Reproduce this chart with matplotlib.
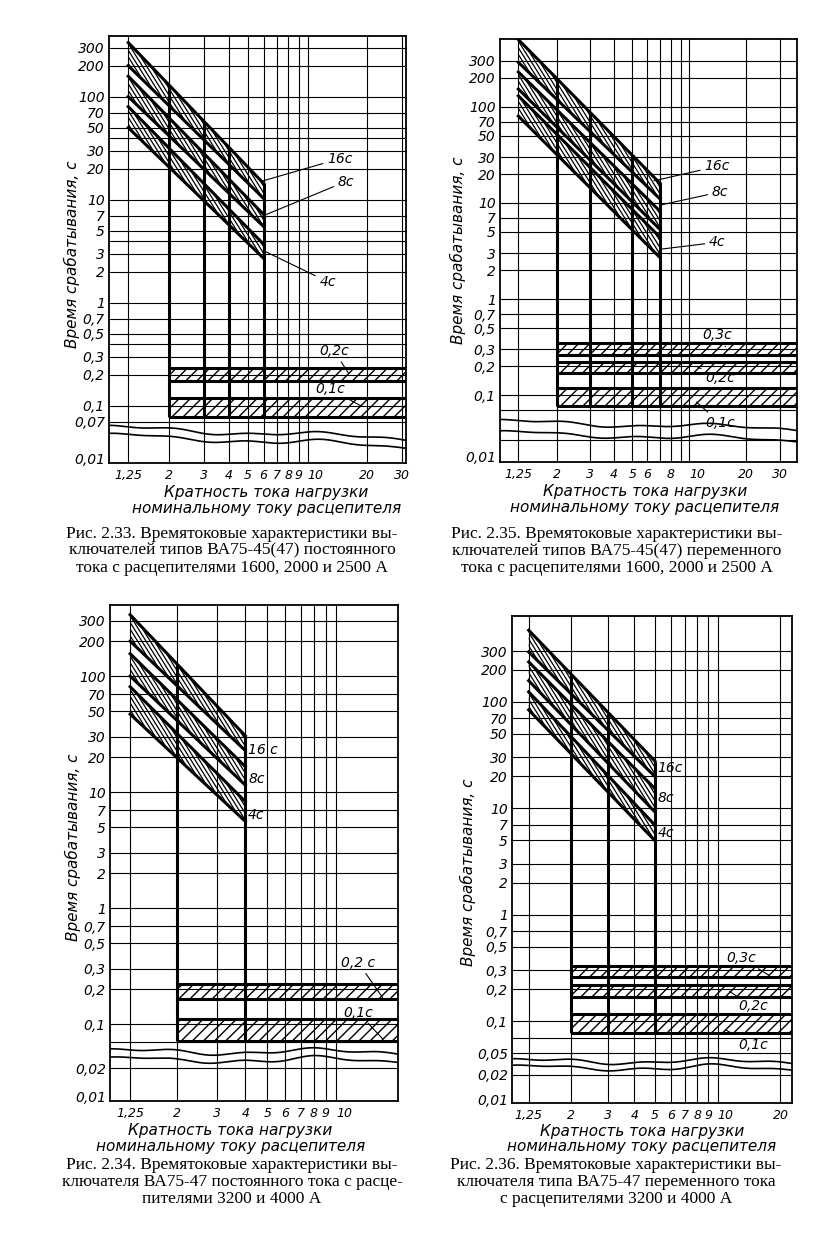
import numpy as np
import matplotlib
matplotlib.use('Agg')
import matplotlib.pyplot as plt
from matplotlib.ticker import NullLocator
from matplotlib.collections import LineCollection
from matplotlib.path import Path

plt.rcParams['font.family'] = ['DejaVu Sans']
plt.rcParams['hatch.linewidth'] = 1.0

# ---------------- data ----------------
# Рис. 2.33
p33_xticks = [1.25, 2, 3, 4, 5, 6, 7, 8, 9, 10, 20, 30]
p33_xgrid = [1.25, 2, 3, 4, 5, 6, 7, 8, 9, 10, 20, 30]
p33_yticks = [300, 200, 100, 70, 50, 30, 20, 10, 7, 5, 3, 2, 1, 0.7, 0.5, 0.3, 0.2, 0.1, 0.07, 0.01]
p33_ygrid = [300, 200, 100, 70, 50, 40, 30, 20, 10, 7, 5, 4, 3, 2, 1, 0.7, 0.5, 0.4, 0.3, 0.2, 0.1, 0.07]
p33_band_x = [1.25, 6]
p33_hi = [[335, 14.4], [158, 7.2], [80, 3.7]]      # 16 c, 8 c, 4 c upper edge
p33_lo = [[200, 10.3], [100, 5.5], [50, 2.7]]      # lower edge
p33_inst = [[0.175, 0.23], [0.078, 0.12]]          # 0,2 c, 0,1 c
p33_teeth = [2, 3, 4, 6]

# Рис. 2.35
p35_xticks = [1.25, 2, 3, 4, 5, 6, 8, 10, 20, 30]
p35_xgrid = [1.25, 2, 3, 4, 5, 6, 7, 8, 9, 10, 20, 30]
p35_yticks = [300, 200, 100, 70, 50, 30, 20, 10, 7, 5, 3, 2, 1, 0.7, 0.5, 0.3, 0.2, 0.1, 0.01]
p35_ygrid = [300, 200, 100, 70, 50, 30, 20, 10, 7, 5, 3, 2, 1, 0.7, 0.5, 0.3, 0.2, 0.1, 0.07, 0.02]
p35_band_x = [1.25, 7]
p35_hi = [[500, 16], [230, 8.2], [130, 4.4]]
p35_lo = [[290, 11], [153, 5.3], [80, 2.7]]
p35_inst = [[0.26, 0.35], [0.17, 0.22], [0.078, 0.12]]
p35_teeth = [2, 3, 5, 7]

# Рис. 2.34
p34_xticks = [1.25, 2, 3, 4, 5, 6, 7, 8, 9, 10]
p34_xgrid = [1.25, 2, 3, 4, 5, 6, 7, 8, 9, 10]
p34_yticks = [300, 200, 100, 70, 50, 30, 20, 10, 7, 5, 3, 2, 1, 0.7, 0.5, 0.3, 0.2, 0.1, 0.02, 0.01]
p34_ygrid = [300, 200, 100, 70, 50, 30, 20, 10, 7, 5, 3, 2, 1, 0.7, 0.5, 0.3, 0.2, 0.1, 0.07, 0.02]
p34_band_x = [1.25, 4]
p34_hi = [[338, 30.6], [156, 16.6], [81, 8.3]]
p34_lo = [[200, 22.8], [100, 11.5], [47, 5.6]]
p34_inst = [[0.165, 0.22], [0.072, 0.11]]
p34_teeth = [2, 4]

# Рис. 2.36
p36_xticks = [1.25, 2, 3, 4, 5, 6, 7, 8, 9, 10, 20]
p36_xgrid = [1.25, 2, 3, 4, 5, 6, 7, 8, 9, 10, 20]
p36_yticks = [300, 200, 100, 70, 50, 30, 20, 10, 7, 5, 3, 2, 1, 0.7, 0.5, 0.3, 0.2, 0.1, 0.05, 0.02, 0.01]
p36_ygrid = [300, 200, 100, 70, 50, 30, 20, 10, 7, 5, 3, 2, 1, 0.7, 0.5, 0.3, 0.2, 0.1, 0.07, 0.05, 0.02]
p36_band_x = [1.25, 5]
p36_hi = [[470, 28], [237, 15.4], [124, 7.0]]
p36_lo = [[294, 20], [158, 9.3], [84, 5.0]]
p36_inst = [[0.26, 0.33], [0.17, 0.22], [0.078, 0.117]]
p36_teeth = [2, 3, 5]

curve_names = ['16с', '8с', '4с']

cap33 = ("Рис. 2.33. Времятоковые характеристики вы-\n"
         "ключателей типов ВА75-45(47) постоянного\n"
         "тока с расцепителями 1600, 2000 и 2500 А")
cap35 = ("Рис. 2.35. Времятоковые характеристики вы-\n"
         "ключателей типов ВА75-45(47) переменного\n"
         "тока с расцепителями 1600, 2000 и 2500 А")
cap34 = ("Рис. 2.34. Времятоковые характеристики вы-\n"
         "ключателя ВА75-47 постоянного тока с расце-\n"
         "пителями 3200 и 4000 А")
cap36 = ("Рис. 2.36. Времятоковые характеристики вы-\n"
         "ключателя типа ВА75-47 переменного тока\n"
         "с расцепителями 3200 и 4000 А")

ylab = 'Время срабатывания, с'
xlab = 'Кратность тока нагрузки\nноминальному току расцепителя'

W, H = 830, 1259
fig = plt.figure(figsize=(W / 100, H / 100), dpi=100)


def box_axes(l, t, r, b):
    return fig.add_axes([l / W, 1 - b / H, (r - l) / W, (b - t) / H])


def broken_log(top, brk_hi, brk_lo, bot, gap, low):
    # log scale with a squeezed break between brk_lo and brk_hi
    lv = np.log10([bot, brk_lo, brk_hi, top])
    p_lo = lv[2] - gap * (lv[2] - lv[1])
    p_bot = p_lo - low * (lv[1] - lv[0])
    pv = np.r_[p_bot - low * (lv[0] + 8), p_bot, p_lo, lv[2], lv[3], 8.0]
    lv = np.r_[-8, lv, 8]

    def fwd(v):
        v = np.asarray(v, float)
        with np.errstate(divide='ignore', invalid='ignore'):
            L = np.log10(np.where(v > 0, v, 1e-8))
        return np.interp(L, lv, pv)

    def inv(p):
        return 10 ** np.interp(p, pv, lv)
    return fwd, inv


def on_line(x, xs, ys):
    return 10 ** np.interp(np.log10(x), np.log10(xs), np.log10(ys))


def lab(v):
    return ('%g' % v).replace('.', ',')


def slant_hatch(ax, box, path, step=4.2, ang=58):
    # steep "\" hatching clipped to a band outline
    l, t, r, b = box
    w, h = r - l, b - t
    run = h / np.tan(np.radians(ang))
    starts = np.arange(-run, w + step, step)
    segs = [[(x0 / w, 1.0), ((x0 + run) / w, 0.0)] for x0 in starts]
    lc = LineCollection(segs, colors='k', linewidths=0.9, transform=ax.transAxes, zorder=2)
    ax.add_collection(lc, autolim=False)
    lc.set_clip_path(path, ax.transData)


def panel(box, xlim, ysc, xticks, xgrid, yticks, ygrid, band_x, hi, lo, inst,
          teeth, trend, ylab_pos, xlab_pos):
    ax = box_axes(*box)
    fwd, inv = broken_log(*ysc)
    ax.set_xscale('log')
    ax.set_yscale('function', functions=(fwd, inv))
    ax.set_xlim(*xlim)
    ax.set_ylim(ysc[3], ysc[0])

    for y in ygrid:
        ax.axhline(y, color='k', lw=0.8, zorder=1)
    for x in xgrid:
        ax.axvline(x, color='k', lw=0.8, zorder=1)

    # break lines
    t = np.linspace(0, 1, 300)
    w = 0.022 * np.sin(2 * np.pi * (1.6 * t + 0.1)) + 0.012 * np.sin(2 * np.pi * (4.2 * t + 0.3)) + trend * t
    for lvl, sh in ((ysc[1], 0.0), (ysc[2], 0.006)):
        ax.plot(t, inv(fwd(lvl) + w + sh * np.sin(2 * np.pi * 3 * t)), color='k', lw=1.2,
                transform=ax.get_yaxis_transform(), zorder=3)

    # time-delay bands
    for h, l in zip(hi, lo):
        outline = Path([(band_x[0], l[0]), (band_x[1], l[1]), (band_x[1], h[1]),
                        (band_x[0], h[0]), (band_x[0], l[0])], closed=True)
        slant_hatch(ax, box, outline)
        ax.plot(band_x, h, color='k', lw=2.2, zorder=4)
        ax.plot(band_x, l, color='k', lw=2.2, zorder=4)

    # instantaneous bands
    x0 = min(teeth)
    for l, h in inst:
        ax.fill_between([x0, xlim[1]], l, h, facecolor='none', edgecolor='k',
                        hatch='/' * 3, lw=0, zorder=2)
        ax.hlines([l, h], x0, xlim[1], color='k', lw=2.2, zorder=4)

    bottom = min(b[0] for b in inst)
    for x in teeth:
        ax.vlines(x, bottom, on_line(x, band_x, hi[0]), color='k', lw=2.2, zorder=4)

    ax.set_xticks(xticks)
    ax.set_xticklabels([lab(v) for v in xticks], fontstyle='italic', fontsize=9)
    for tl in ax.get_xticklabels():
        if tl.get_text() == '10':
            tl.set_horizontalalignment('left')
    ax.set_yticks(yticks)
    ax.set_yticklabels([lab(v) for v in yticks], fontstyle='italic', fontsize=10)
    ax.xaxis.set_minor_locator(NullLocator())
    ax.yaxis.set_minor_locator(NullLocator())
    ax.tick_params(axis='both', length=0)
    ax.tick_params(axis='y', pad=3)
    ax.tick_params(axis='x', pad=4)
    for s in ax.spines.values():
        s.set_linewidth(1.3)

    ax.text(ylab_pos[0], ylab_pos[1], ylab, rotation=90, transform=ax.transAxes,
            ha='center', va='center', fontsize=11, fontstyle='italic')
    ax.text(xlab_pos[0], xlab_pos[1], xlab, transform=ax.transAxes, ha='center',
            va='center', fontsize=11, fontstyle='italic', linespacing=1.05)
    return ax


def leader(ax, txt, xy, xytext):
    ax.annotate(txt, xy=xy, xytext=xytext, ha='center', va='center', fontsize=10,
                fontstyle='italic', zorder=6,
                arrowprops=dict(arrowstyle='-', lw=0.8, color='k', shrinkA=1, shrinkB=0))


def tag(ax, txt, x, y):
    ax.text(x, y, txt, ha='left', va='center', fontsize=10, fontstyle='italic', zorder=6)


# ---- Рис. 2.33
ax1 = panel((109, 36, 406, 463), (1.0, 31.3), (388, 0.061, 0.0167, 0.0091, 0.138, 1.0),
            p33_xticks, p33_xgrid, p33_yticks, p33_ygrid, p33_band_x, p33_hi, p33_lo,
            p33_inst, p33_teeth, -0.1, (-0.125, 0.49), (0.53, -0.088))
leader(ax1, curve_names[0], (5.8, 15), (14.5, 25))
leader(ax1, curve_names[1], (6, 7), (15.6, 15))
leader(ax1, curve_names[2], (6, 3.2), (12.6, 1.6))
leader(ax1, '0,2с', (16, 0.21), (13.6, 0.34))
leader(ax1, '0,1с', (18.5, 0.1), (13, 0.145))

# ---- Рис. 2.35
ax2 = panel((500, 39, 797, 462), (1.0, 37), (507, 0.053, 0.0267, 0.0081, 0.395, 0.58),
            p35_xticks, p35_xgrid, p35_yticks, p35_ygrid, p35_band_x, p35_hi, p35_lo,
            p35_inst, p35_teeth, -0.07, (-0.141, 0.50), (0.488, -0.089))
leader(ax2, curve_names[0], (6.5, 17), (14, 24))
leader(ax2, curve_names[1], (7, 9.5), (14.5, 13))
leader(ax2, curve_names[2], (7, 3.3), (14, 3.9))
leader(ax2, '0,3с', (15.5, 0.32), (14, 0.42))
leader(ax2, '0,2с', (10.9, 0.2), (14.5, 0.15))
leader(ax2, '0,1с', (10.9, 0.085), (14.5, 0.05))

# ---- Рис. 2.34
ax3 = panel((110, 605, 398, 1101), (1.02, 18.7), (410, 0.058, 0.0245, 0.009, 0.191, 0.813),
            p34_xticks, p34_xgrid, p34_yticks, p34_ygrid, p34_band_x, p34_hi, p34_lo,
            p34_inst, p34_teeth, 0.0, (-0.128, 0.512), (0.417, -0.076))
tag(ax3, '16 с', 4.12, 23)
tag(ax3, curve_names[1], 4.12, 13)
tag(ax3, curve_names[2], 4.12, 6.3)
leader(ax3, '0,2 с', (16, 0.17), (12.5, 0.34))
leader(ax3, '0,1с', (16, 0.075), (12.5, 0.126))

# ---- Рис. 2.36
ax4 = panel((512, 616, 792, 1103), (1.04, 22.7), (640, 0.042, 0.0241, 0.0091, 0.257, 0.78),
            p36_xticks, p36_xgrid, p36_yticks, p36_ygrid, p36_band_x, p36_hi, p36_lo,
            p36_inst, p36_teeth, 0.0, (-0.157, 0.474), (0.464, -0.074))
tag(ax4, curve_names[0], 5.15, 24)
tag(ax4, curve_names[1], 5.15, 12.4)
tag(ax4, curve_names[2], 5.15, 5.8)
leader(ax4, '0,3с', (17.6, 0.27), (13, 0.39))
leader(ax4, '0,2с', (11.4, 0.19), (14.8, 0.138))
leader(ax4, '0,1с', (10.9, 0.083), (14.8, 0.06))

# captions
for cx, cy, cap in ((232, 550.7, cap33), (617, 550.7, cap35),
                    (232, 1181.7, cap34), (616, 1181.7, cap36)):
    fig.text(cx / W, 1 - cy / H, cap, ha='center', va='center', fontsize=12.5,
             family='Liberation Serif', linespacing=1.08)

fig.savefig('out.png', dpi=100)
